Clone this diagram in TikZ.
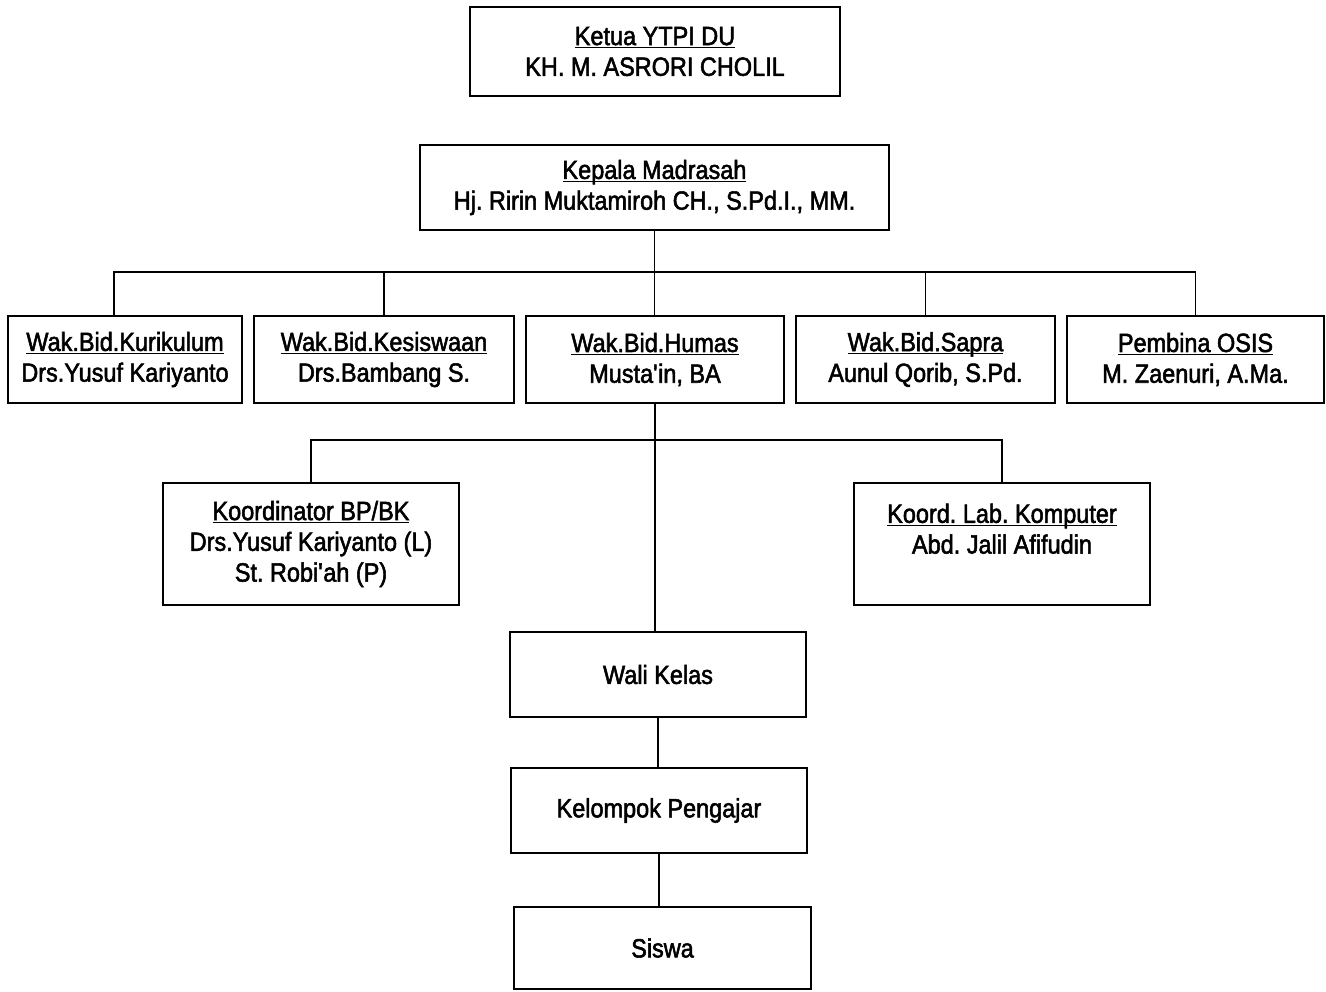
\documentclass[tikz,border=0pt]{standalone}
\usepackage{fontspec}
\setmainfont{Liberation Sans}[FakeStretch=0.89,FakeBold=2]
\usepackage{tikz}
\usetikzlibrary{calc,positioning}
\frenchspacing
\newcommand{\garis}[1]{\underline{\smash{#1}}\vphantom{#1}}
\tikzstyle{orgbox} = [draw, line width=1.1pt, rectangle, align=center,
    inner sep=2pt, font=\fontsize{15}{17.5}\selectfont]
\tikzstyle{orgline} = [line width=1.1pt]

\begin{document}
\begin{tikzpicture}
\useasboundingbox (0,0) rectangle (26.52,-19.82);
% puncak
\node [orgbox, minimum width=7.4cm, minimum height=1.78cm] (ketua) at (13.1,-1.03)
    {\garis{Ketua YTPI DU}\\KH. M. ASRORI CHOLIL};
\node [orgbox, minimum width=9.38cm, minimum height=1.7cm] (kepala) at (13.09,-3.75)
    {\garis{Kepala Madrasah}\\Hj. Ririn Muktamiroh CH., S.Pd.I., MM.};
% wakil
\node [orgbox, minimum width=4.68cm, minimum height=1.74cm] (kur) at (2.5,-7.19)
    {\garis{Wak.Bid.Kurikulum}\\Drs.Yusuf Kariyanto};
\node [orgbox, minimum width=5.2cm, minimum height=1.74cm] (kes) at (7.68,-7.19)
    {\garis{Wak.Bid.Kesiswaan}\\Drs.Bambang S.};
\node [orgbox, minimum width=5.16cm, minimum height=1.74cm] (humas) at (13.1,-7.19)
    {\garis{Wak.Bid.Humas}\\Musta\textquotesingle in, BA};
\node [orgbox, minimum width=5.18cm, minimum height=1.74cm] (sapra) at (18.51,-7.19)
    {\garis{Wak.Bid.Sapra}\\Aunul Qorib, S.Pd.};
\node [orgbox, minimum width=5.14cm, minimum height=1.74cm] (osis) at (23.91,-7.19)
    {\garis{Pembina OSIS}\\M. Zaenuri, A.Ma.};
% koordinator
\node [orgbox, minimum width=5.92cm, minimum height=2.44cm] (bpbk) at (6.22,-10.88)
    {\garis{Koordinator BP/BK}\\Drs.Yusuf Kariyanto (L)\\St. Robi\textquotesingle ah (P)};
\node [orgbox, minimum width=5.92cm, minimum height=2.44cm] (lab) at (20.04,-10.88)
    {\garis{Koord. Lab. Komputer}\\Abd. Jalil Afifudin\\\mbox{}};
% bawah
\node [orgbox, minimum width=5.92cm, minimum height=1.7cm] (wali) at (13.16,-13.49) {Wali Kelas};
\node [orgbox, minimum width=5.92cm, minimum height=1.7cm] (guru) at (13.18,-16.21) {Kelompok Pengajar};
\node [orgbox, minimum width=5.94cm, minimum height=1.64cm] (siswa) at (13.25,-18.96) {Siswa};

\coordinate (bar1) at (0,-5.44);
\coordinate (bar2) at (0,-8.8);
\coordinate (kurtop) at ($(kur.north)+(-0.22,0)$);
\draw [orgline] (kepala.south) -- (kepala.south |- humas.north);
\draw [orgline] (kurtop) |- (osis.north |- bar1) -- (osis.north);
\foreach \n in {kes,sapra}
    \draw [orgline] (\n.north) -- (\n.north |- bar1);
\draw [orgline] (humas.south) -- (humas.south |- wali.north);
\draw [orgline] (bpbk.north) |- (lab.north |- bar2) -- (lab.north);
\draw [orgline] (wali.south) -- (wali.south |- guru.north);
\draw [orgline] (guru.south) -- (guru.south |- siswa.north);
\end{tikzpicture}
\end{document}
